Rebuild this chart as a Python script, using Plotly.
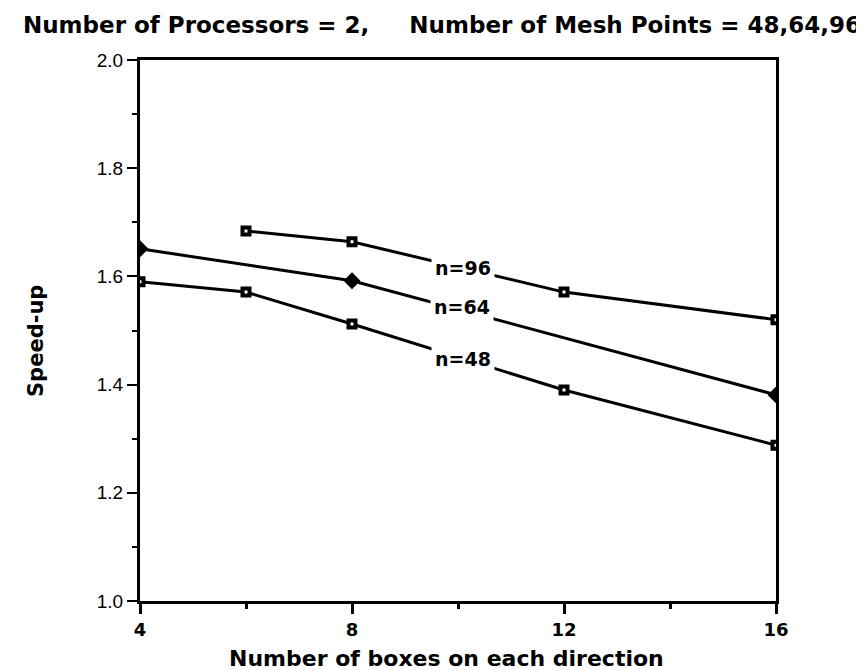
import plotly.graph_objects as go

x96 = [6, 8, 12, 16]
y96 = [1.684, 1.664, 1.571, 1.52]
x64 = [4, 8, 16]
y64 = [1.651, 1.592, 1.381]
x48 = [4, 6, 8, 12, 16]
y48 = [1.59, 1.571, 1.512, 1.39, 1.288]

labels = ["n=96", "n=64", "n=48"]
label_x = [10.09, 10.07, 10.1]
label_y = [1.6155, 1.5434, 1.448]

xticks = [4, 8, 12, 16]
yticks = [1.0, 1.2, 1.4, 1.6, 1.8, 2.0]

BOLD = "DejaVu Sans, Arial"
REG = "Liberation Sans, Arial"

fig = go.Figure()
sq = dict(symbol="square", size=7, color="white", line=dict(color="black", width=4))
fig.add_trace(go.Scatter(x=x96, y=y96, mode="lines+markers", line=dict(color="black", width=3), marker=sq))
fig.add_trace(go.Scatter(x=x64, y=y64, mode="lines+markers", line=dict(color="black", width=3),
                         marker=dict(symbol="diamond", size=13, color="black")))
fig.add_trace(go.Scatter(x=x48, y=y48, mode="lines+markers", line=dict(color="black", width=3), marker=sq))

for t, lx, ly in zip(labels, label_x, label_y):
    fig.add_annotation(x=lx, y=ly, text="<b>" + t + "</b>", showarrow=False,
                       bgcolor="white", font=dict(family=BOLD, size=19, color="black"),
                       xanchor="center", yanchor="middle", borderpad=3)

fig.add_annotation(xref="paper", yref="paper", x=(438 - 132) / 636, y=0, yshift=-57, xanchor="center", yanchor="middle",
                   text="<b>Number of boxes on each direction</b>", showarrow=False,
                   font=dict(family=BOLD, size=22, color="black"))
fig.add_annotation(xref="paper", yref="paper", x=0, y=(593 - 333) / 541, xshift=-104, xanchor="center", yanchor="middle",
                   text="<b>Speed-up</b>", textangle=-90, showarrow=False,
                   font=dict(family=BOLD, size=21, color="black"))
fig.add_annotation(xref="paper", yref="paper", x=(434 - 132) / 636, y=1, yshift=35, xanchor="center", yanchor="middle",
                   text="<b>Number of Processors = 2,\u00a0\u00a0\u00a0\u00a0\u00a0Number of Mesh Points = 48,64,96</b>",
                   showarrow=False, font=dict(family=BOLD, size=23, color="black"))

fig.update_layout(
    width=864, height=670,
    margin=dict(l=132, r=96, t=52, b=77),
    plot_bgcolor="white", paper_bgcolor="white",
    showlegend=False,
)
fig.update_xaxes(range=[4, 16], tickvals=xticks, ticktext=["<b>%d</b>" % v for v in xticks],
                 ticks="outside", ticklen=10, tickwidth=3, tickcolor="black",
                 minor=dict(tickvals=[6, 10, 14], ticks="outside", ticklen=5, tickwidth=3, tickcolor="black"),
                 showline=True, linewidth=3, linecolor="black", mirror=True, showgrid=False, zeroline=False,
                 tickfont=dict(family=BOLD, size=18, color="black"))
fig.update_yaxes(range=[1.0, 2.0], tickvals=yticks, ticktext=["%.1f" % v for v in yticks],
                 ticks="outside", ticklen=10, tickwidth=2, tickcolor="black",
                 minor=dict(tickvals=[1.1, 1.3, 1.5, 1.7, 1.9], ticks="outside", ticklen=5, tickwidth=2, tickcolor="black"),
                 showline=True, linewidth=3, linecolor="black", mirror=True, showgrid=False, zeroline=False,
                 tickfont=dict(family=REG, size=19, color="black"))

fig.write_html("out.html")
